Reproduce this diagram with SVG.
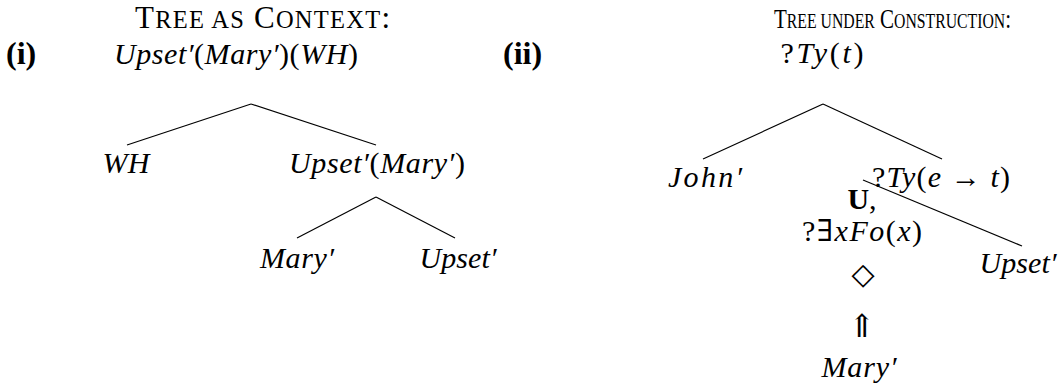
<svg xmlns="http://www.w3.org/2000/svg" width="1063" height="387" viewBox="0 0 1063 387">
<style>
.bg{fill:#ffffff}
.title{font-family:"Liberation Serif","DejaVu Serif",serif;fill:#000}
.lab{font-family:"Liberation Serif","DejaVu Serif",serif;font-size:32px;font-weight:bold;fill:#000}
.m{font-family:"Liberation Serif","DejaVu Serif",serif;font-size:30px;font-style:italic;fill:#000;text-anchor:middle}
.r{font-style:normal}
.b{font-style:normal;font-weight:bold}
.sym{font-family:"DejaVu Serif","Liberation Serif",serif;font-style:normal;fill:#000;text-anchor:middle}
.edge{stroke:#000;stroke-width:1.2;fill:none}
</style>
<rect class="bg" x="0" y="0" width="1063" height="387"/>
<g id="titles">
<text class="title" x="135" y="28" textLength="255" style="font-size:31px">T<tspan style="font-size:24.5px">REE AS</tspan> C<tspan style="font-size:24.5px">ONTEXT</tspan>:</text>
<text class="title" x="774" y="28" textLength="237" lengthAdjust="spacingAndGlyphs" style="font-size:28px">T<tspan style="font-size:21px">REE UNDER</tspan> C<tspan style="font-size:21px">ONSTRUCTION</tspan>:</text>
<text class="lab" x="6" y="64">(i)</text>
<text class="lab" x="503" y="64">(ii)</text>
</g>
<g id="connectors">
<line class="edge" x1="251" y1="104" x2="127" y2="145"/>
<line class="edge" x1="251" y1="104" x2="376" y2="145"/>
<line class="edge" x1="376" y1="197" x2="297" y2="238"/>
<line class="edge" x1="376" y1="197" x2="455" y2="238"/>
<line class="edge" x1="823" y1="104" x2="703" y2="159"/>
<line class="edge" x1="823" y1="104" x2="942" y2="159"/>
<line class="edge" x1="863" y1="180" x2="1022" y2="246"/>
</g>
<g id="node-l-root"><text class="m" x="236" y="64" textLength="244">Upset′<tspan class="r">(</tspan>Mary′<tspan class="r">)(</tspan>WH<tspan class="r">)</tspan></text></g>
<g id="node-l-wh"><text class="m" x="126" y="173" textLength="47">WH</text></g>
<g id="node-l-upmary"><text class="m" x="377" y="173" textLength="176">Upset′<tspan class="r">(</tspan>Mary′<tspan class="r">)</tspan></text></g>
<g id="node-l-mary"><text class="m" x="297" y="268" textLength="74">Mary′</text></g>
<g id="node-l-upset"><text class="m" x="458" y="268" textLength="77">Upset′</text></g>
<g id="node-r-root"><text class="m" x="822" y="63" textLength="83"><tspan class="r">?</tspan>Ty<tspan class="r">(</tspan>t<tspan class="r">)</tspan></text></g>
<g id="node-r-john"><text class="m" x="705" y="187" textLength="74">John′</text></g>
<g id="node-r-pred"><text class="m" x="941" y="187" textLength="138"><tspan class="r">?</tspan>Ty<tspan class="r">(</tspan>e<tspan class="r"> → </tspan>t<tspan class="r">)</tspan></text></g>
<g id="node-r-u">
<text class="m" x="862" y="209"><tspan class="b">U</tspan><tspan class="r">,</tspan></text>
<text class="m" x="862" y="241" textLength="120"><tspan class="r">?∃</tspan>xFo<tspan class="r">(</tspan>x<tspan class="r">)</tspan></text>
<text class="sym" x="863" y="284" font-size="30">◇</text>
</g>
<g id="node-r-upset"><text class="m" x="1018" y="273" textLength="77">Upset′</text></g>
<g id="node-r-mary">
<text class="sym" x="862" y="337" font-size="32">⇑</text>
<text class="m" x="859" y="377" textLength="75">Mary′</text>
</g>
</svg>
